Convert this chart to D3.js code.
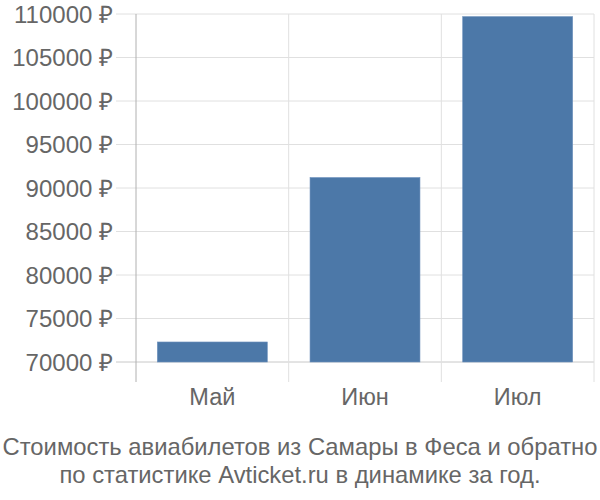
<!DOCTYPE html>
<html>
<head>
<meta charset="utf-8">
<script src="https://cdn.jsdelivr.net/npm/d3@7"></script>
<style>
  body { margin: 0; background: #fff; }
  text { font-family: "Liberation Sans", Arial, sans-serif; }
</style>
</head>
<body>
<div id="chart"></div>
<script>
const months = ["Май", "Июн", "Июл"];
const prices = [72300, 91200, 109700];
const yTicks = [70000, 75000, 80000, 85000, 90000, 95000, 100000, 105000, 110000];
const titleLines = [
  "Стоимость авиабилетов из Самары в Феса и обратно",
  "по статистике Avticket.ru в динамике за год."
];

const width = 600;
const height = 500;
const plotLeft = 136, plotRight = 594, plotTop = 14, plotBottom = 362;

const svg = d3
  .select("#chart")
  .append("svg")
  .attr("width", width)
  .attr("height", height)
  .style("background", "#fff");

const xScale = d3.scaleBand().domain(months).range([plotLeft, plotRight]).padding(0);
const yScale = d3.scaleLinear().domain([70000, 110000]).range([plotBottom, plotTop]);

// horizontal grid + tick marks
svg
  .append("g")
  .selectAll("line")
  .data(yTicks)
  .enter()
  .append("line")
  .attr("x1", plotLeft - 20)
  .attr("x2", plotRight)
  .attr("y1", (d) => yScale(d))
  .attr("y2", (d) => yScale(d))
  .attr("stroke", (d, i) => (i === 0 ? "#c8c8c8" : "#e0e0e0"))
  .attr("stroke-width", 1);

// vertical grid (band edges)
const edges = months.map((m) => xScale(m) + xScale.bandwidth());
svg
  .append("g")
  .selectAll("line")
  .data(edges)
  .enter()
  .append("line")
  .attr("x1", (d) => d)
  .attr("x2", (d) => d)
  .attr("y1", plotTop)
  .attr("y2", plotBottom + 20)
  .attr("stroke", "#e0e0e0");

// left axis line
svg
  .append("line")
  .attr("x1", plotLeft)
  .attr("x2", plotLeft)
  .attr("y1", plotTop)
  .attr("y2", plotBottom + 20)
  .attr("stroke", "#b0b0b0");

// bars
const barW = xScale.bandwidth() * 0.72;
svg
  .selectAll("rect.bar")
  .data(prices)
  .enter()
  .append("rect")
  .attr("class", "bar")
  .attr("x", (d, i) => xScale(months[i]) + (xScale.bandwidth() - barW) / 2)
  .attr("y", (d) => yScale(d))
  .attr("width", barW)
  .attr("height", (d) => yScale(70000) - yScale(d))
  .attr("fill", "#4c78a8")
  .attr("stroke", "#6b8fbb")
  .attr("stroke-width", 0.6);

// y tick labels
svg
  .append("g")
  .selectAll("text")
  .data(yTicks)
  .enter()
  .append("text")
  .attr("x", 113)
  .attr("y", (d) => yScale(d) + 8.5)
  .attr("text-anchor", "end")
  .attr("font-size", 24)
  .attr("fill", "#666")
  .text((d) => d + " ₽");

// x labels
svg
  .append("g")
  .selectAll("text")
  .data(months)
  .enter()
  .append("text")
  .attr("x", (d) => xScale(d) + xScale.bandwidth() / 2)
  .attr("y", 405)
  .attr("text-anchor", "middle")
  .attr("font-size", 23.5)
  .attr("fill", "#666")
  .text((d) => d);

// title
svg
  .append("g")
  .selectAll("text")
  .data(titleLines)
  .enter()
  .append("text")
  .attr("x", 300)
  .attr("y", (d, i) => 455 + i * 28)
  .attr("text-anchor", "middle")
  .attr("font-size", 23.8)
  .attr("fill", "#666")
  .text((d) => d);
</script>
</body>
</html>
